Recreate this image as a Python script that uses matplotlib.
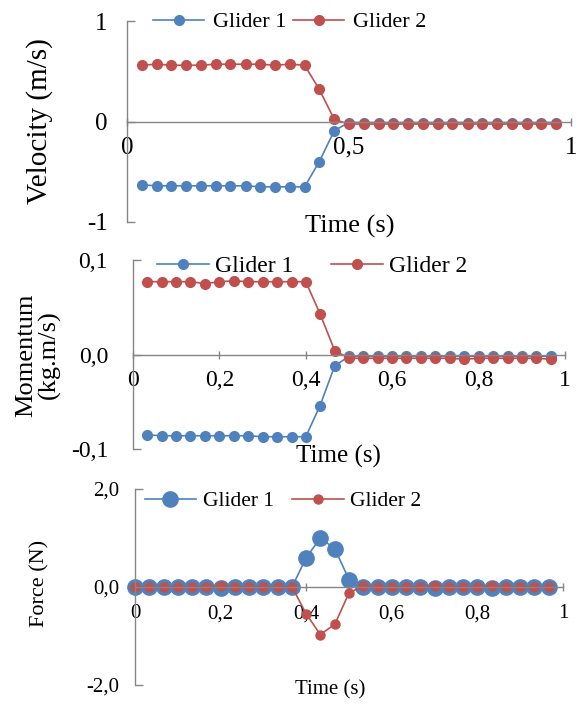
import matplotlib
matplotlib.use('Agg')
import matplotlib.pyplot as plt

plt.rcParams['font.family'] = ['Liberation Serif', 'DejaVu Serif']

#----------------------
# Dados
#----------------------

# Tempo (s) das medidas de velocidade e momento
tempo = [0.033, 0.067, 0.100, 0.133, 0.167, 0.200, 0.233, 0.267, 0.300, 0.333,
         0.367, 0.400, 0.433, 0.467, 0.500, 0.533, 0.567, 0.600, 0.633, 0.667,
         0.700, 0.733, 0.767, 0.800, 0.833, 0.867, 0.900, 0.933, 0.967]

# Tempo (s) das medidas de forca
tempo_f = [0.000, 0.033, 0.067, 0.100, 0.133, 0.167, 0.200, 0.233, 0.267, 0.300,
           0.333, 0.367, 0.400, 0.433, 0.467, 0.500, 0.533, 0.567, 0.600, 0.633,
           0.667, 0.700, 0.733, 0.767, 0.800, 0.833, 0.867, 0.900, 0.933, 0.967]

# Velocidade (m/s)
vel_g1 = [-0.63, -0.64, -0.64, -0.64, -0.64, -0.64, -0.64, -0.64, -0.65, -0.65,
          -0.65, -0.65, -0.40, -0.09, -0.01, -0.01, -0.01, -0.01, -0.01, -0.01,
          -0.01, -0.01, -0.01, -0.01, -0.01, -0.01, -0.01, -0.01, -0.01]
vel_g2 = [0.56, 0.57, 0.56, 0.56, 0.56, 0.57, 0.57, 0.57, 0.57, 0.56,
          0.57, 0.56, 0.32, 0.02, -0.025, -0.025, -0.025, -0.025, -0.025, -0.025,
          -0.025, -0.025, -0.025, -0.025, -0.025, -0.025, -0.025, -0.025, -0.025]

# Momento (kg.m/s)
mom_g1 = [-0.085, -0.086, -0.086, -0.086, -0.086, -0.086, -0.086, -0.086, -0.087, -0.087,
          -0.087, -0.087, -0.054, -0.012, -0.002, -0.002, -0.002, -0.002, -0.002, -0.002,
          -0.002, -0.002, -0.002, -0.002, -0.002, -0.002, -0.002, -0.002, -0.002]
mom_g2 = [0.077, 0.077, 0.077, 0.077, 0.075, 0.077, 0.078, 0.077, 0.077, 0.077,
          0.077, 0.077, 0.043, 0.004, -0.004, -0.004, -0.004, -0.004, -0.004, -0.004,
          -0.004, -0.004, -0.005, -0.004, -0.004, -0.004, -0.004, -0.004, -0.005]

# Forca (N)
for_g1 = [0.0, 0.0, 0.0, 0.0, 0.0, -0.01, -0.03, 0.0, 0.0, 0.0,
          0.0, 0.0, 0.60, 1.00, 0.78, 0.15, 0.0, 0.0, 0.0, 0.0,
          -0.01, -0.02, 0.0, 0.0, 0.0, -0.03, 0.0, 0.0, 0.0, 0.0]
for_g2 = [0.0, 0.0, 0.0, 0.0, 0.0, 0.01, 0.03, 0.0, 0.0, 0.0,
          0.0, 0.0, -0.55, -0.97, -0.76, -0.12, 0.02, 0.0, 0.0, 0.0,
          0.01, 0.02, 0.0, 0.0, 0.0, 0.03, 0.0, 0.0, 0.0, 0.0]

nomes = ['Glider 1', 'Glider 2']

azul = '#4F81BD'
verm = '#C0504D'
cinza = '#868686'

#----------------------
# Plotagem
#----------------------
W, H = 578, 704
fig = plt.figure(figsize=(W / 100, H / 100), dpi=100)


def caixa(x0, y0, x1, y1):
    # converte caixa em pixels (origem no topo) para fracao da figura
    return [x0 / W, 1 - y1 / H, (x1 - x0) / W, (y1 - y0) / H]


def estilo(ax, ylim, yticks, ylabels, xticks, xlabels, fs, ypad, xpad):
    ax.set_xlim(0, 1)
    ax.set_ylim(ylim)
    ax.spines['top'].set_visible(False)
    ax.spines['right'].set_visible(False)
    ax.spines['bottom'].set_position(('data', 0))
    for s in ['left', 'bottom']:
        ax.spines[s].set_color(cinza)
        ax.spines[s].set_linewidth(1.0)
    ax.set_yticks(yticks)
    ax.set_yticklabels(ylabels)
    ax.set_xticks(xticks)
    ax.set_xticklabels(xlabels)
    ax.tick_params(axis='y', direction='in', length=6, width=1, color=cinza,
                   labelsize=fs, pad=ypad)
    ax.tick_params(axis='x', direction='inout', length=6, width=1, color=cinza,
                   labelsize=fs, pad=xpad)
    ax.patch.set_alpha(0)


def legenda(ax, cx, cy, fs, hl, cs, tp):
    ax.legend(ncol=2, frameon=False, loc='center', fontsize=fs,
              bbox_to_anchor=(cx / W, 1 - cy / H), bbox_transform=fig.transFigure,
              handlelength=hl, columnspacing=cs, handletextpad=tp,
              borderaxespad=0, borderpad=0)


# --- Velocidade
ax1 = fig.add_axes(caixa(127, 21, 571, 222))
ax1.plot(tempo, vel_g1, '-o', color=azul, ms=7, lw=1.2, label=nomes[0], clip_on=False)
ax1.plot(tempo, vel_g2, '-o', color=verm, ms=7, lw=1.2, label=nomes[1], clip_on=False)
estilo(ax1, (-1, 1), [-1, 0, 1], ['-1', '0', '1'], [0, 0.5, 1], ['0', '0,5', '1'], 18, 14, 8)
legenda(ax1, 290, 22, 16, 2.3, 0.3, 0.4)
fig.text(40 / W, 1 - 121 / H, 'Velocity (m/s)', rotation=90, ha='center', va='center', fontsize=21)
fig.text(350 / W, 1 - 226 / H, 'Time (s)', ha='center', va='center', fontsize=19)

# --- Momento
ax2 = fig.add_axes(caixa(133, 260, 565, 449))
ax2.plot(tempo, mom_g1, '-o', color=azul, ms=7, lw=1.2, label=nomes[0], clip_on=False)
ax2.plot(tempo, mom_g2, '-o', color=verm, ms=7, lw=1.2, label=nomes[1], clip_on=False)
estilo(ax2, (-0.1, 0.1), [-0.1, 0, 0.1], ['-0,1', '0,0', '0,1'],
       [0, 0.2, 0.4, 0.6, 0.8, 1], ['0', '0,2', '0,4', '0,6', '0,8', '1'], 17, 18, 8)
legenda(ax2, 312, 266, 17, 2.2, 1.6, 0.25)
fig.text(38 / W, 1 - 355 / H, 'Momentum\n(kg.m/s)', rotation=90, ha='center', va='center',
         fontsize=19, linespacing=1.0)
fig.text(338 / W, 1 - 456 / H, 'Time (s)', ha='center', va='center', fontsize=18)

# --- Forca
ax3 = fig.add_axes(caixa(135, 489, 563, 685))
ax3.plot(tempo_f, for_g1, '-o', color=azul, ms=11, lw=1.2, label=nomes[0], clip_on=False)
ax3.plot(tempo_f, for_g2, '-o', color=verm, ms=6.5, lw=1.2, label=nomes[1], clip_on=False)
estilo(ax3, (-2, 2), [-2, 0, 2], ['-2,0', '0,0', '2,0'],
       [0, 0.2, 0.4, 0.6, 0.8, 1], ['0', '0,2', '0,4', '0,6', '0,8', '1'], 15, 11, 9.5)
legenda(ax3, 283, 501, 15.5, 2.4, 0.85, 0.3)
fig.text(40 / W, 1 - 583 / H, 'Force (N)', rotation=90, ha='center', va='center', fontsize=16)
fig.text(330 / W, 1 - 690 / H, 'Time (s)', ha='center', va='center', fontsize=15)

plt.savefig('out.png', dpi=100)
